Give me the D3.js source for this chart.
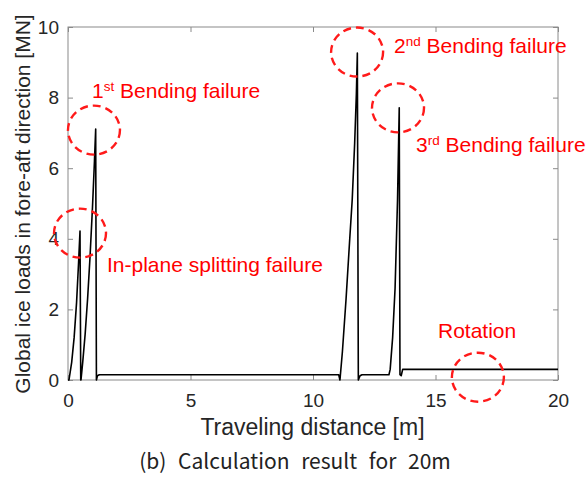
<!DOCTYPE html>
<html><head><meta charset="utf-8">
<script src="https://cdn.jsdelivr.net/npm/d3@7"></script>
<style>
body{margin:0;background:#fff;}
svg{display:block;}
</style></head>
<body>
<svg id="chart" width="587" height="477"></svg>
<script>
// Data
const distance = [0, 0.04, 0.15, 0.25, 0.35, 0.43, 0.49, 0.52, 0.53, 0.6, 0.7, 0.8, 0.9, 1.0, 1.08, 1.13, 1.16, 1.2, 1.28,
  11.05, 11.1, 11.2, 11.35, 11.5, 11.6, 11.7, 11.77, 11.81, 11.85, 11.92, 12.0,
  13.1, 13.15, 13.25, 13.35, 13.45, 13.52, 13.55, 13.6, 13.66, 20];
const load = [0, 0, 0.5, 1.2, 2.2, 3.3, 4.22, 0, 0, 0.5, 1.3, 2.3, 3.5, 4.9, 6.2, 7.11, 0, 0.12, 0.15,
  0.15, 0, 0.8, 2.3, 4.0, 5.1, 6.7, 8.1, 9.26, 0, 0.12, 0.15,
  0.15, 0.3, 1.2, 2.6, 5.1, 7.71, 0.15, 0.12, 0.3, 0.3];
const xTicks = [0, 5, 10, 15, 20];
const yTicks = [0, 2, 4, 6, 8, 10];
const annotX = [1.06, 0.49, 11.8, 13.47, 16.73];
const annotY = [7.08, 4.16, 9.29, 7.71, 0.08];

const svg = d3.select("#chart");
const m = {l: 68, t: 27, r: 29, b: 97};
const W = 587 - m.l - m.r, H = 477 - m.t - m.b;
const x = d3.scaleLinear().domain([0, 20]).range([0, W]);
const y = d3.scaleLinear().domain([0, 10]).range([H, 0]);
const g = svg.append("g").attr("transform", `translate(${m.l},${m.t})`);

const axisColor = "#8a8a8a";
const font = "'Liberation Sans', Arial, sans-serif";

function styleAxis(sel, labels) {
  sel.select(".domain").remove();
  sel.selectAll(".tick line").attr("stroke", axisColor);
  if (!labels) sel.selectAll(".tick text").remove();
  else sel.selectAll(".tick text").attr("fill", "#262626").style("font-family", font).style("font-size", "19px");
}
g.append("g").attr("transform", `translate(0,${H})`)
  .call(d3.axisBottom(x).tickValues(xTicks).tickSize(-5).tickPadding(14).tickFormat(d3.format("d")))
  .call(s => styleAxis(s, true));
g.append("g")
  .call(d3.axisTop(x).tickValues(xTicks).tickSize(-5))
  .call(s => styleAxis(s, false));
g.append("g")
  .call(d3.axisLeft(y).tickValues(yTicks).tickSize(-5).tickPadding(9).tickFormat(d3.format("d")))
  .call(s => styleAxis(s, true));
g.append("g").attr("transform", `translate(${W},0)`)
  .call(d3.axisRight(y).tickValues(yTicks).tickSize(-5))
  .call(s => styleAxis(s, false));
g.append("rect").attr("x", 0).attr("y", 0).attr("width", W).attr("height", H)
  .attr("fill", "none").attr("stroke", axisColor).attr("stroke-width", 1);

const pts = distance.map((d, i) => [d, load[i]]);
g.append("path").datum(pts)
  .attr("fill", "none").attr("stroke", "#000").attr("stroke-width", 1.6)
  .attr("stroke-linejoin", "round")
  .attr("d", d3.line().x(d => x(d[0])).y(d => y(d[1])));

// dashed ellipses
g.selectAll("ellipse.ann").data(annotX.map((d, i) => [d, annotY[i]])).join("ellipse")
  .attr("cx", d => x(d[0])).attr("cy", d => y(d[1]))
  .attr("rx", 26).attr("ry", 24.5)
  .attr("fill", "none").attr("stroke", "#ff1a1a").attr("stroke-width", 2.4)
  .attr("stroke-dasharray", "8,5");

// annotation labels
const labels = [
  {x: 92, y: 98, main: "1", sup: "st", rest: " Bending failure"},
  {x: 107, y: 272, main: "In-plane splitting failure"},
  {x: 394, y: 53, main: "2", sup: "nd", rest: " Bending failure"},
  {x: 416, y: 152, main: "3", sup: "rd", rest: " Bending failure"},
  {x: 438, y: 338, main: "Rotation"}
];
labels.forEach(l => {
  const t = svg.append("text").attr("x", l.x).attr("y", l.y)
    .attr("fill", "#ff0000").style("font-family", font).style("font-size", "21px");
  t.append("tspan").text(l.main);
  if (l.sup) {
    t.append("tspan").attr("dy", -7).style("font-size", "13.5px").text(l.sup);
    t.append("tspan").attr("dy", 7).text(l.rest);
  }
});

// axis titles
svg.append("text").attr("x", 312.5).attr("y", 435).attr("text-anchor", "middle")
  .attr("fill", "#262626").style("font-family", font).style("font-size", "23px")
  .text("Traveling distance [m]");
svg.append("text").attr("transform", `translate(30,204) rotate(-90)`)
  .attr("text-anchor", "middle")
  .attr("fill", "#262626").style("font-family", font).style("font-size", "21px")
  .text("Global ice loads in fore-aft direction [MN]");

// caption
svg.append("text").attr("x", 295).attr("y", 469).attr("text-anchor", "middle")
  .attr("fill", "#222").style("font-family", "'Noto Sans CJK KR', 'Noto Sans', sans-serif")
  .style("font-weight", 400).style("font-size", "21px").style("word-spacing", "7px")
  .text("(b) Calculation result for 20m");
</script>
</body></html>
